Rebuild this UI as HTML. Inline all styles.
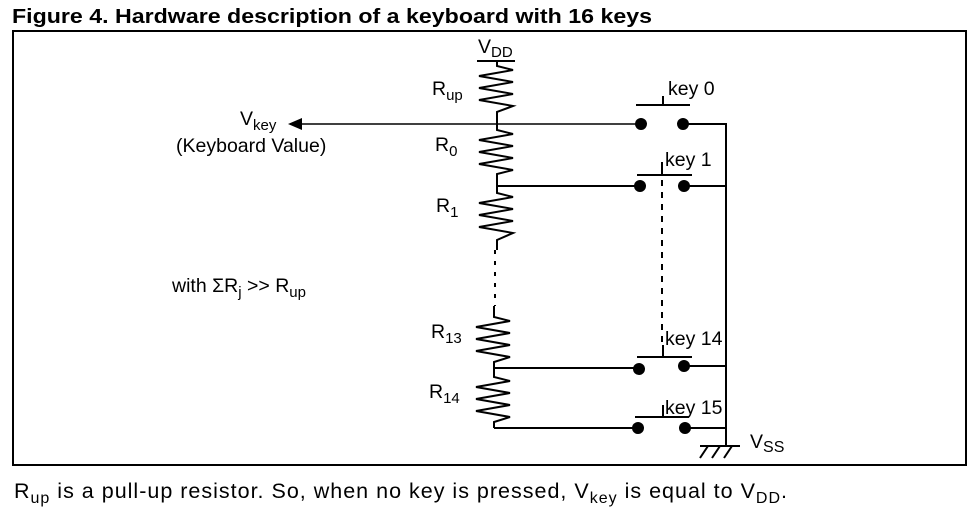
<!DOCTYPE html>
<html><head><meta charset="utf-8"><style>
html,body{margin:0;padding:0;background:#fff;}
svg{display:block;font-family:"Liberation Sans",Arial,sans-serif;}
</style></head><body>
<svg width="975" height="515" viewBox="0 0 975 515" xmlns="http://www.w3.org/2000/svg">
<text x="12" y="23" font-size="20" font-weight="bold" textLength="640" lengthAdjust="spacingAndGlyphs">Figure 4. Hardware description of a keyboard with 16 keys</text>
<rect x="13" y="31" width="953" height="434" fill="none" stroke="#000" stroke-width="2"/>
<g stroke="#000" stroke-width="2" fill="none">
<line x1="477" y1="61" x2="515" y2="61"/>
<path d="M497 61 V66 L513 70 L479 76 L513 82 L479 88 L513 94 L479 100 L513 106 L497 112 V124"/>
<path d="M497 124 V130 L513 134 L479 140 L513 146 L479 152 L513 158 L479 164 L513 170 L497 174 V186"/>
<path d="M497 186 V193 L513 197 L479 203 L513 209 L479 215 L513 221 L479 227 L513 233 L497 240 V250"/>
<path d="M494 306 V317 L510 321 L476 327 L510 333 L476 339 L510 345 L476 351 L510 357 L494 362 V368"/>
<path d="M494 368 V377 L510 381 L476 387 L510 393 L476 399 L510 405 L476 411 L510 417 L494 422 V428"/>
<line x1="495" y1="250" x2="495" y2="306" stroke-dasharray="4,7"/>
<line x1="290" y1="124" x2="640" y2="124" stroke-width="1.5"/>
<line x1="497" y1="186" x2="640" y2="186"/>
<line x1="494" y1="368" x2="639" y2="368"/>
<line x1="494" y1="428" x2="638" y2="428"/>
<line x1="684" y1="124" x2="727" y2="124"/>
<line x1="684" y1="186" x2="727" y2="186"/>
<line x1="684" y1="366" x2="727" y2="366"/>
<line x1="685" y1="428" x2="727" y2="428"/>
<line x1="726" y1="123" x2="726" y2="446"/>
<line x1="636" y1="105" x2="690" y2="105"/><line x1="663" y1="96" x2="663" y2="105"/>
<line x1="637" y1="175" x2="692" y2="175"/><line x1="662" y1="162" x2="662" y2="175"/>
<line x1="662" y1="180" x2="662" y2="345" stroke-dasharray="6,6"/>
<line x1="637" y1="357" x2="692" y2="357"/><line x1="663" y1="345" x2="663" y2="357"/>
<line x1="635" y1="417" x2="689" y2="417"/><line x1="663" y1="405" x2="663" y2="417"/>
<line x1="700" y1="446" x2="740" y2="446"/>
<line x1="708" y1="446" x2="700" y2="458"/><line x1="720" y1="446" x2="712" y2="458"/><line x1="732" y1="446" x2="724" y2="458"/>
</g>
<polygon points="288,124 302,118 302,130" fill="#000"/>
<g fill="#000">
<circle cx="641" cy="124" r="6"/><circle cx="683" cy="124" r="6"/>
<circle cx="640" cy="186" r="6"/><circle cx="684" cy="186" r="6"/>
<circle cx="639" cy="369" r="6"/><circle cx="684" cy="366" r="6"/>
<circle cx="638" cy="428" r="6"/><circle cx="685" cy="428" r="6"/>
</g>
<g font-size="19.5" fill="#000">
<text x="478" y="53">V<tspan font-size="15" dy="4">DD</tspan></text>
<text x="432" y="95">R<tspan font-size="15" dy="5">up</tspan></text>
<text x="435" y="151">R<tspan font-size="15" dy="5">0</tspan></text>
<text x="436" y="212">R<tspan font-size="15" dy="5">1</tspan></text>
<text x="431" y="338">R<tspan font-size="15" dy="5">13</tspan></text>
<text x="429" y="398">R<tspan font-size="15" dy="5">14</tspan></text>
<text x="668" y="95">key 0</text>
<text x="665" y="166">key 1</text>
<text x="665" y="345">key 14</text>
<text x="665" y="414">key 15</text>
<text x="750" y="448">V<tspan font-size="16" dy="4">SS</tspan></text>
<text x="240" y="125">V<tspan font-size="15" dy="5">key</tspan></text>
<text x="176" y="152">(Keyboard Value)</text>
<text x="172" y="292">with ΣR<tspan font-size="15" dy="5">j</tspan><tspan dy="-5"> &gt;&gt; R</tspan><tspan font-size="15" dy="5">up</tspan></text>
</g>
<text x="14" y="498" font-size="21.5" letter-spacing="1">R<tspan font-size="16" dy="5">up</tspan><tspan dy="-5"> is a pull-up resistor. So, when no key is pressed, V</tspan><tspan font-size="16" dy="5">key</tspan><tspan dy="-5"> is equal to V</tspan><tspan font-size="16" dy="5">DD</tspan><tspan dy="-5">.</tspan></text>
</svg>
</body></html>
